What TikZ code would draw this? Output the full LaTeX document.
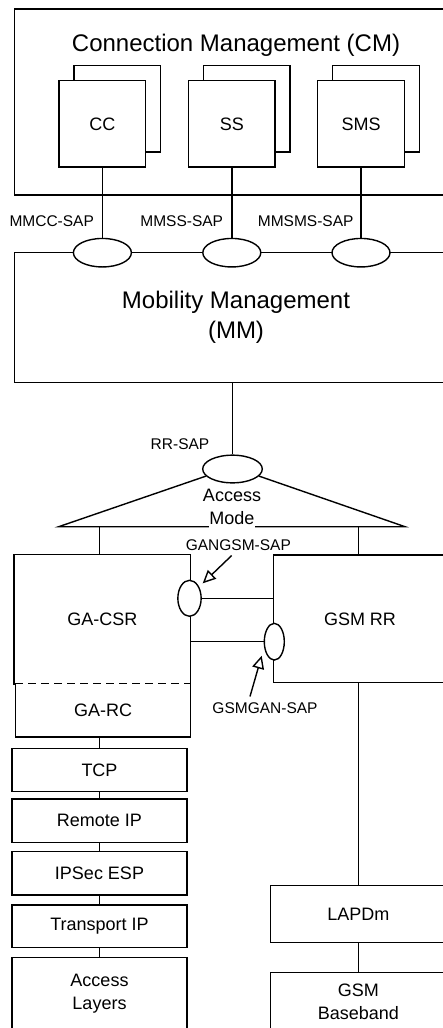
\documentclass[tikz,border=0pt]{standalone}
\usepackage{fontspec}
\setmainfont{Liberation Sans}
\usetikzlibrary{shapes.geometric,arrows.meta,calc}
\newcommand{\fbig}{\fontsize{24}{30}\selectfont}
\newcommand{\fmid}{\fontsize{18}{23}\selectfont}
\newcommand{\fsml}{\fontsize{15.5}{18}\selectfont}
\begin{document}
\begin{tikzpicture}[x=1pt,y=-1pt, line width=1.4pt,
  bx/.style={draw, rectangle, inner sep=0pt, fill=white, font=\fmid, align=center},
  nb/.style={rectangle, inner sep=0pt, font=\fmid, align=center},
  sap/.style={draw, ellipse, inner sep=0pt, fill=white},
  lbl/.style={inner sep=0pt, font=\fsml},
  txt/.style={inner sep=0pt, align=center},
  oarrow/.style={-{Triangle[open,length=13pt,width=12pt]}, line width=1.4pt}]
\useasboundingbox (0,0) rectangle (443,1028);
\clip (0,0) rectangle (443,1028);
\fill[white] (0,0) rectangle (443,1028);

% Connection Management
\node[bx, minimum width=442.6, minimum height=186] (cm) at (236,102) {};
\node[txt, font=\fbig] (cmt) at (236,45) {Connection Management (CM)};
\node[bx, minimum width=86.5, minimum height=86.5] (ccb) at (117.4,108.9) {};
\node[bx, minimum width=86.5, minimum height=86.5] (cc) at (102.4,123.9) {CC};
\node[bx, minimum width=86.5, minimum height=86.5] (ssb) at (246.8,108.9) {};
\node[bx, minimum width=86.5, minimum height=86.5] (ss) at (231.8,123.9) {SS};
\node[bx, minimum width=86.5, minimum height=86.5] (smsb) at (376,108.9) {};
\node[bx, minimum width=86.5, minimum height=86.5] (sms) at (361,123.9) {SMS};

% Mobility Management
\node[bx, font=\fbig, minimum width=442.6, minimum height=129.6] (mm) at (236,317.5) {Mobility Management\\(MM)};
\node[sap, minimum width=58, minimum height=28.5] (s1) at (102.4,252.7) {};
\node[sap, minimum width=58, minimum height=28.5] (s2) at (231.8,252.7) {};
\node[sap, minimum width=58, minimum height=28.5] (s3) at (361,252.7) {};
\draw (cc.south) -- (s1.north);
\draw (ss.south) -- (s2.north);
\draw (sms.south) -- (s3.north);
\node[lbl] (l1) at (51.7,221) {MMCC-SAP};
\node[lbl] (l2) at (181.7,221) {MMSS-SAP};
\node[lbl] (l3) at (305.7,221) {MMSMS-SAP};

% RR-SAP and access mode
\node[sap, minimum width=59.6, minimum height=27.7] (rr) at (232.5,469) {};
\draw (mm.south -| rr.north) -- (rr.north);
\node[lbl] (lrr) at (180,444.3) {RR-SAP};
\coordinate (tl) at (58.7,526.7);
\coordinate (tr) at (405,526.7);
\draw (rr.195) -- (tl) -- (tr) -- (rr.-15);
\node[txt, font=\fmid] (acc) at (232,495.7) {Access};
\node[txt, font=\fmid, fill=white, inner xsep=0.5pt, inner ysep=3pt] (mode) at (232,518.3) {Mode};

% GA-CSR / GA-RC
\node[nb, minimum width=175.3, minimum height=129.3] (gacsr) at (102.35,619.65) {GA-CSR};
\node[nb, minimum width=174, minimum height=52] (garc) at (103,710.3) {GA-RC};
\draw (gacsr.south west) -- (gacsr.north west) -- (gacsr.north east) -- (gacsr.south east);
\draw (garc.north west) -- (garc.south west) -- (garc.south east) -- (garc.north east);
\draw[dash pattern=on 8pt off 5pt] (garc.north west) -- (garc.north east);

% GSM RR
\node[bx, minimum width=172.6, minimum height=127.7] (gsmrr) at (360,618.85) {GSM RR};
\coordinate (bl) at (99.3,526.7);
\coordinate (br) at (358.3,526.7);
\draw (bl) -- (bl |- gacsr.north);
\draw (br) -- (br |- gsmrr.north);

% internal SAPs
\node[sap, minimum width=23.3, minimum height=36] (gg) at (189.5,598.3) {};
\node[sap, minimum width=20, minimum height=36.7] (sg) at (274.3,641.7) {};
\draw (gg.east) -- (gg.east -| gsmrr.west);
\draw (sg.west -| gacsr.east) -- (sg.west);
\node[lbl] (lgg) at (238.3,545) {GANGSM-SAP};
\node[lbl] (lsg) at (265,708.3) {GSMGAN-SAP};
\coordinate (a1s) at (231.7,555.5);
\coordinate (a1e) at (202.7,583.3);
\coordinate (a2s) at (250,696.5);
\coordinate (a2e) at (261.7,655.7);
\draw[oarrow] (a1s) -- (a1e);
\draw[oarrow] (a2s) -- (a2e);

% left protocol stack
\node[bx, minimum width=175, minimum height=43.4] (tcp) at (99.5,770) {TCP};
\node[bx, minimum width=175, minimum height=43.7] (rip) at (99.5,820.85) {Remote IP};
\node[bx, minimum width=175, minimum height=43.3] (ipsec) at (99.5,873.35) {IPSec ESP};
\node[bx, minimum width=175, minimum height=42.3] (tip) at (99.5,926.15) {Transport IP};
\node[bx, minimum width=175, minimum height=72.3] (acl) at (99.5,993.85) {Access\\Layers};
\draw (garc.south -| tcp.north) -- (tcp.north);
\draw (tcp.south) -- (rip.north);
\draw (rip.south) -- (ipsec.north);
\draw (ipsec.south) -- (tip.north);
\draw (tip.south) -- (acl.north);

% right stack
\node[bx, minimum width=175.3, minimum height=57] (lapdm) at (358.3,914.2) {LAPDm};
\node[bx, minimum width=175.3, minimum height=57.3] (gbb) at (358.3,1001.35) {GSM\\Baseband};
\draw (gsmrr.south -| lapdm.north) -- (lapdm.north);
\draw (lapdm.south) -- (gbb.north);
\end{tikzpicture}
\end{document}
